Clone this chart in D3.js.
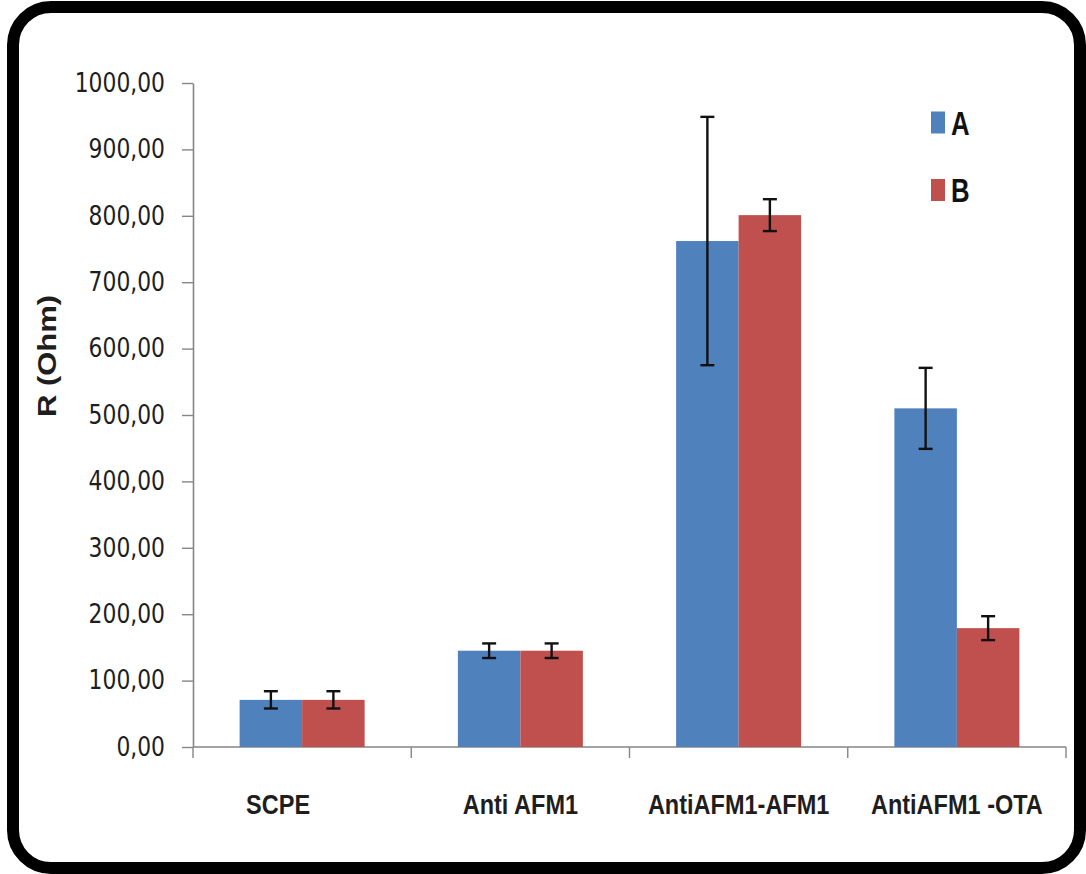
<!DOCTYPE html>
<html>
<head>
<meta charset="utf-8">
<script src="https://cdn.jsdelivr.net/npm/d3@7"></script>
<style>
  html, body { margin: 0; padding: 0; background: #fff; }
  svg { display: block; }
</style>
</head>
<body>
<svg id="chart" width="1086" height="874"></svg>
<script>
// ---- data ----
const categories = ["SCPE", "Anti AFM1", "AntiAFM1-AFM1", "AntiAFM1 -OTA"];
const seriesNames = ["A", "B"];
const seriesA = [71, 145, 762, 510];
const seriesB = [71, 145, 801, 179];
const errA = [13, 11, 187, 61];
const errB = [13, 11, 24, 18];
const yTicks = [0, 100, 200, 300, 400, 500, 600, 700, 800, 900, 1000];
const yTitle = "R (Ohm)";

const colors = { A: "#4F81BD", B: "#C0504D" };
const values = { A: seriesA, B: seriesB };
const errors = { A: errA, B: errB };

const svg = d3.select("#chart");

// frame
svg.append("rect")
  .attr("x", 13).attr("y", 7)
  .attr("width", 1067).attr("height", 861)
  .attr("rx", 38).attr("ry", 38)
  .attr("fill", "#fff")
  .attr("stroke", "#000")
  .attr("stroke-width", 12);

const plotLeft = 193, plotRight = 1066, plotTop = 83, plotBottom = 747;

const x0 = d3.scaleBand().domain(categories).range([plotLeft, plotRight]).padding(0);
const x1 = d3.scaleBand().domain(seriesNames).range([0, x0.bandwidth()])
  .paddingInner(0).paddingOuter(0.746);
const y = d3.scaleLinear().domain([0, 1000]).range([plotBottom, plotTop]);

const fmt = v => d3.format(".2f")(v).replace(".", ",");

// y axis
const sx = 0.84;
const yAxis = svg.append("g")
  .attr("transform", `translate(${plotLeft},0)`)
  .call(d3.axisLeft(y).tickValues(yTicks).tickSize(11).tickSizeOuter(0).tickFormat(fmt));
yAxis.select(".domain").attr("stroke", "#868686").attr("stroke-width", 1.6);
yAxis.selectAll(".tick line").attr("stroke", "#868686").attr("stroke-width", 1.4);
yAxis.selectAll(".tick text")
  .attr("x", -28 / sx)
  .attr("transform", `scale(${sx},1)`)
  .attr("font-family", "DejaVu Sans")
  .attr("font-size", 26)
  .attr("fill", "#1e1e1e");

// x axis line
svg.append("line")
  .attr("x1", plotLeft).attr("x2", plotRight)
  .attr("y1", y(0)).attr("y2", y(0))
  .attr("stroke", "#868686").attr("stroke-width", 1.6);
const boundaries = categories.map(c => x0(c)).concat([x0.range()[1]]);
svg.selectAll(".xtick").data(boundaries).enter().append("line")
  .attr("class", "xtick")
  .attr("x1", d => d).attr("x2", d => d)
  .attr("y1", y(0)).attr("y2", y(0) + 11)
  .attr("stroke", "#868686").attr("stroke-width", 1.4);

// x labels
const lsx = 0.84;
svg.selectAll(".xlabel").data(categories).enter().append("text")
  .attr("class", "xlabel")
  .attr("transform", (d, i) => `translate(${x0(d) + x0.bandwidth() / 2 - (i === 0 ? 24 : 0)},814) scale(${lsx},1)`)
  .attr("text-anchor", "middle")
  .attr("font-family", "Liberation Sans, Arial, sans-serif")
  .attr("font-weight", "bold")
  .attr("font-size", 28)
  .attr("fill", "#1e1e1e")
  .text(d => d);

// bars
const barData = [];
categories.forEach((c, i) => {
  seriesNames.forEach(s => {
    barData.push({ c, s, v: values[s][i], e: errors[s][i] });
  });
});

svg.selectAll(".bar").data(barData).enter().append("rect")
  .attr("class", "bar")
  .attr("x", d => x0(d.c) + x1(d.s))
  .attr("width", x1.bandwidth())
  .attr("y", d => y(d.v))
  .attr("height", d => y(0) - y(d.v))
  .attr("fill", d => colors[d.s]);

// error bars
const cap = 7;
const eg = svg.selectAll(".err").data(barData).enter().append("g")
  .attr("class", "err")
  .attr("stroke", "#111")
  .attr("stroke-width", 2.4);
const cx = d => x0(d.c) + x1(d.s) + x1.bandwidth() / 2;
eg.append("line")
  .attr("x1", cx).attr("x2", cx)
  .attr("y1", d => y(d.v + d.e))
  .attr("y2", d => y(d.v - d.e));
eg.append("line")
  .attr("x1", d => cx(d) - cap).attr("x2", d => cx(d) + cap)
  .attr("y1", d => y(d.v + d.e)).attr("y2", d => y(d.v + d.e));
eg.append("line")
  .attr("x1", d => cx(d) - cap).attr("x2", d => cx(d) + cap)
  .attr("y1", d => y(d.v - d.e)).attr("y2", d => y(d.v - d.e));

// y title
svg.append("text")
  .attr("transform", "translate(56,356) scale(0.85,1) rotate(-90)")
  .attr("text-anchor", "middle")
  .attr("font-family", "Liberation Sans, Arial, sans-serif")
  .attr("font-weight", "bold")
  .attr("font-size", 31)
  .attr("fill", "#1e1e1e")
  .text(yTitle);

// legend
const legend = svg.selectAll(".leg").data(seriesNames).enter().append("g")
  .attr("class", "leg")
  .attr("transform", (d, i) => `translate(931,${122.5 + i * 67.5})`);
legend.append("rect")
  .attr("x", 0).attr("y", -11)
  .attr("width", 14).attr("height", 22)
  .attr("fill", d => colors[d]);
legend.append("text")
  .attr("transform", "translate(20,12) scale(0.78,1)")
  .attr("font-family", "Liberation Sans, Arial, sans-serif")
  .attr("font-weight", "bold")
  .attr("font-size", 33)
  .attr("fill", "#111")
  .text(d => d);
</script>
</body>
</html>
